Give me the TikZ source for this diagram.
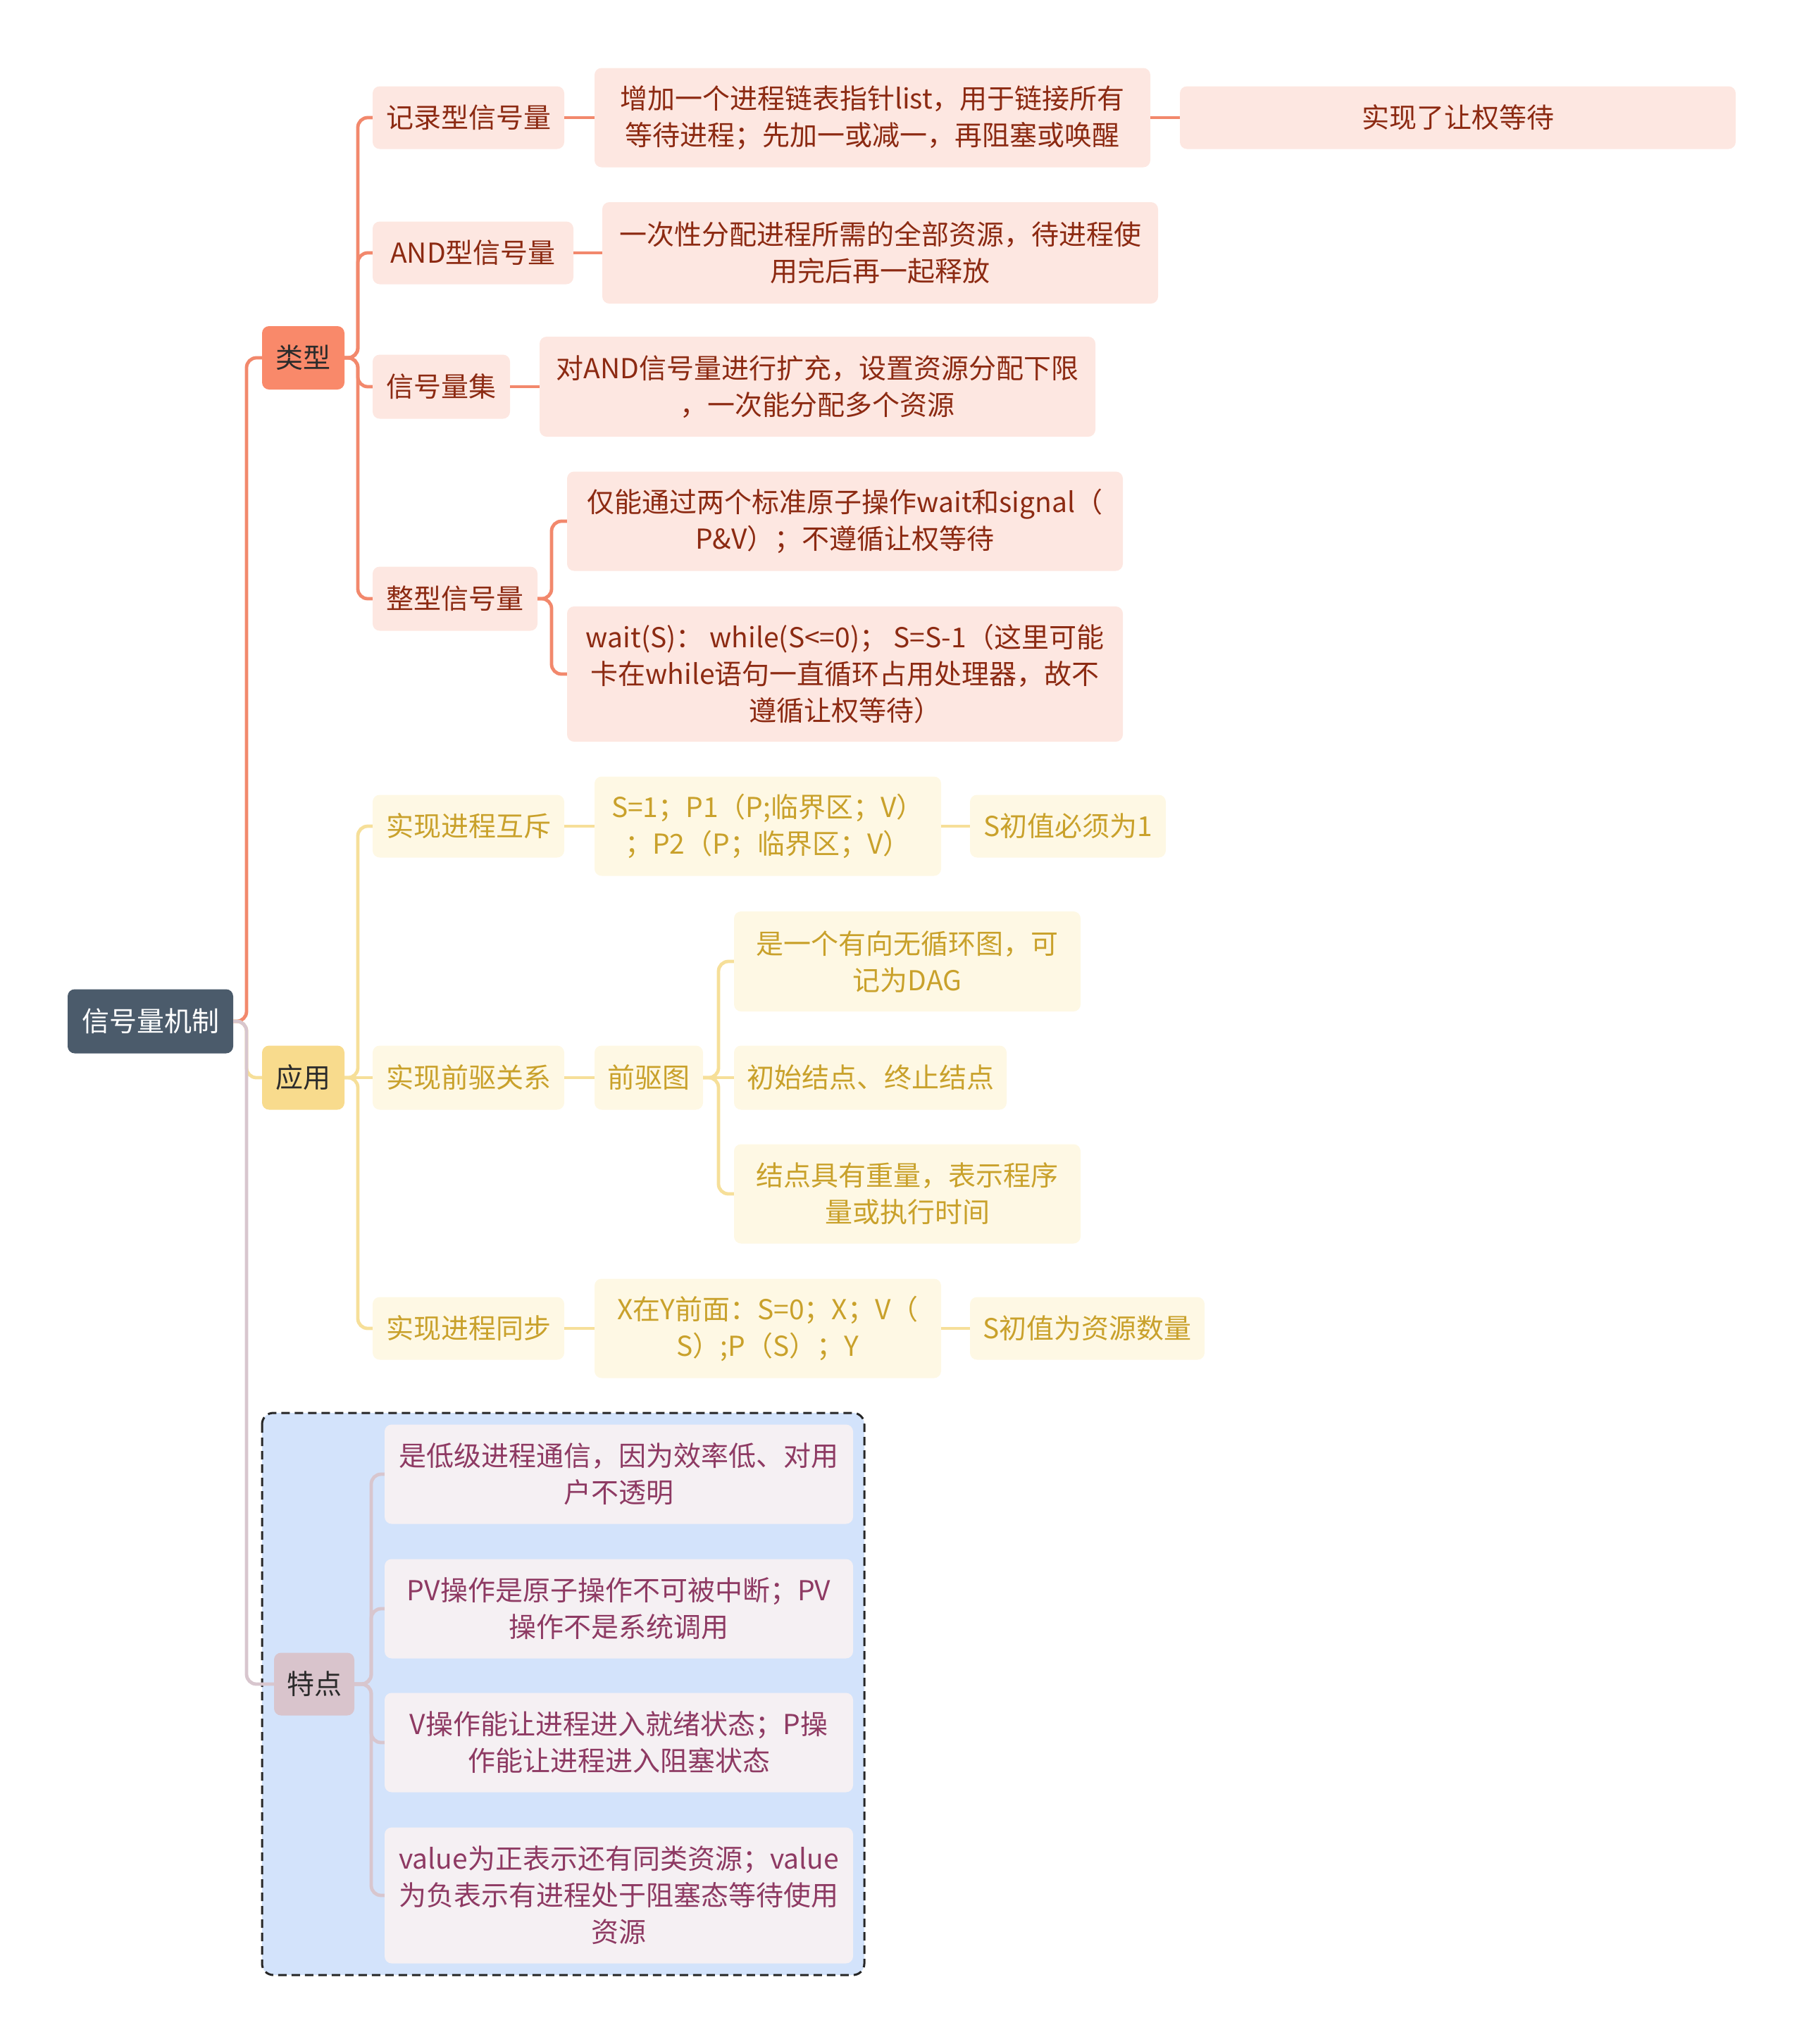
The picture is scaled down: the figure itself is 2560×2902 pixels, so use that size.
\documentclass[tikz,border=0pt]{standalone}
\usepackage{fontspec}
\setmainfont{Noto Sans CJK SC}
\definecolor{rootfill}{HTML}{4B5B6B}
\definecolor{ofill}{HTML}{F9896A}
\definecolor{oline}{HTML}{F2886C}
\definecolor{olight}{HTML}{FDE7E1}
\definecolor{otext}{HTML}{8C2A12}
\definecolor{yfill}{HTML}{F8DB8D}
\definecolor{yline}{HTML}{F6DF99}
\definecolor{ylight}{HTML}{FEF8E4}
\definecolor{ytext}{HTML}{C9A12B}
\definecolor{mfill}{HTML}{D9C4CC}
\definecolor{mline}{HTML}{D8C6CE}
\definecolor{mlight}{HTML}{F5F0F3}
\definecolor{mtext}{HTML}{8E3A63}
\definecolor{bluebg}{HTML}{D3E3FB}
\definecolor{darktext}{HTML}{2B2B2B}
\begin{document}
\begin{tikzpicture}[x=1pt,y=-1pt,
  box/.style={rounded corners=10pt, inner sep=0pt, align=center, font=\fontsize{39}{52}\selectfont},
  sz/.style 2 args={minimum width=#1pt, minimum height=#2pt},
  rootnode/.style={box, fill=rootfill, text=white},
  obig/.style={box, fill=ofill, text=darktext},
  onode/.style={box, fill=olight, text=otext},
  ybig/.style={box, fill=yfill, text=darktext},
  ynode/.style={box, fill=ylight, text=ytext},
  mbig/.style={box, fill=mfill, text=darktext},
  mnode/.style={box, fill=mlight, text=mtext},
  oconn/.style={draw=oline, line width=4.8pt, rounded corners=14pt},
  yconn/.style={draw=yline, line width=4.8pt, rounded corners=14pt},
  mconn/.style={draw=mline, line width=4.8pt, rounded corners=14pt}
]
\useasboundingbox (0,0) rectangle (2560,2902);

% dashed background box of the third branch
\draw[fill=bluebg, draw=black!85, line width=3pt, dash pattern=on 12pt off 7pt, rounded corners=16pt]
  (372,2006) rectangle (1227,2804);

% root
\node[rootnode, sz={235}{91}] (root) at (213.5,1450) {信号量机制};

% branch 1: types
\node[obig, sz={117}{90}] (lx) at (430.5,508) {类型};
\node[onode, sz={272}{89}] (jl) at (665,167) {记录型信号量};
\node[onode, sz={789}{141}] (a1) at (1238.5,167) {增加一个进程链表指针list，用于链接所有\\等待进程；先加一或减一，再阻塞或唤醒};
\node[onode, sz={789}{89}] (a1a) at (2069.5,167) {实现了让权等待};
\node[onode, sz={285}{89}] (andx) at (671.5,359) {AND型信号量};
\node[onode, sz={789}{144}] (a2) at (1249.5,359) {一次性分配进程所需的全部资源，待进程使\\用完后再一起释放};
\node[onode, sz={195}{91}] (jihe) at (626.5,549) {信号量集};
\node[onode, sz={789}{142}] (a3) at (1160.5,549) {对AND信号量进行扩充，设置资源分配下限\\，一次能分配多个资源};
\node[onode, sz={234}{91}] (zx) at (646,850) {整型信号量};
\node[onode, sz={789}{141}] (a4a) at (1199.5,740) {仅能通过两个标准原子操作wait和signal（\\P\&V）；不遵循让权等待};
\node[onode, sz={789}{192}] (a4b) at (1199.5,957) {wait(S)： while(S<=0)； S=S-1（这里可能\\卡在while语句一直循环占用处理器，故不\\遵循让权等待）};

% branch 2: applications
\node[ybig, sz={117}{91}] (yy) at (430.5,1530) {应用};
\node[ynode, sz={272}{89}] (hc) at (665,1173) {实现进程互斥};
\node[ynode, sz={492}{141}] (b1) at (1090,1173) {S=1；P1（P;临界区；V）\\；P2（P；临界区；V）};
\node[ynode, sz={278}{89}] (b1a) at (1516,1173) {S初值必须为1};
\node[ynode, sz={272}{91}] (qq) at (665,1530) {实现前驱关系};
\node[ynode, sz={154}{91}] (qqt) at (921,1530) {前驱图};
\node[ynode, sz={492}{142}] (c1) at (1288,1365) {是一个有向无循环图，可\\记为DAG};
\node[ynode, sz={387}{91}] (c2) at (1235.5,1530) {初始结点、终止结点};
\node[ynode, sz={492}{141}] (c3) at (1288,1695) {结点具有重量，表示程序\\量或执行时间};
\node[ynode, sz={272}{89}] (tb) at (665,1886) {实现进程同步};
\node[ynode, sz={492}{141}] (b3) at (1090,1886) {X在Y前面：S=0；X；V（\\S）;P（S）；Y};
\node[ynode, sz={333}{89}] (b3a) at (1543.5,1886) {S初值为资源数量};

% branch 3: features
\node[mbig, sz={114}{89}] (td) at (446,2391) {特点};
\node[mnode, sz={665}{141}] (d1) at (878.5,2093) {是低级进程通信，因为效率低、对用\\户不透明};
\node[mnode, sz={665}{141}] (d2) at (878.5,2284) {PV操作是原子操作不可被中断；PV\\操作不是系统调用};
\node[mnode, sz={665}{141}] (d3) at (878.5,2474) {V操作能让进程进入就绪状态；P操\\作能让进程进入阻塞状态};
\node[mnode, sz={665}{193}] (d4) at (878.5,2691) {value为正表示还有同类资源；value\\为负表示有进程处于阻塞态等待使用\\资源};

% connectors
\draw[oconn] (root.east) -- (350,1450) |- (lx.west);
\draw[yconn] (root.east) -- (350,1450) |- (yy.west);
\draw[mconn] (root.east) -- (350,1450) |- (td.west);

\draw[oconn] (lx.east) -- (508,508) |- (jl.west);
\draw[oconn] (lx.east) -- (508,508) |- (andx.west);
\draw[oconn] (lx.east) -- (508,508) |- (jihe.west);
\draw[oconn] (lx.east) -- (508,508) |- (zx.west);
\draw[oconn] (jl.east) -- (a1.west);
\draw[oconn] (a1.east) -- (a1a.west);
\draw[oconn] (andx.east) -- (a2.west);
\draw[oconn] (jihe.east) -- (a3.west);
\draw[oconn] (zx.east) -- (783,850) |- (a4a.west);
\draw[oconn] (zx.east) -- (783,850) |- (a4b.west);

\draw[yconn] (yy.east) -- (508,1530) |- (hc.west);
\draw[yconn] (yy.east) -- (qq.west);
\draw[yconn] (yy.east) -- (508,1530) |- (tb.west);
\draw[yconn] (hc.east) -- (b1.west);
\draw[yconn] (b1.east) -- (b1a.west);
\draw[yconn] (qq.east) -- (qqt.west);
\draw[yconn] (qqt.east) -- (1020,1530) |- (c1.west);
\draw[yconn] (qqt.east) -- (c2.west);
\draw[yconn] (qqt.east) -- (1020,1530) |- (c3.west);
\draw[yconn] (tb.east) -- (b3.west);
\draw[yconn] (b3.east) -- (b3a.west);

\draw[mconn] (td.east) -- (527,2391) |- (d1.west);
\draw[mconn] (td.east) -- (527,2391) |- (d2.west);
\draw[mconn] (td.east) -- (527,2391) |- (d3.west);
\draw[mconn] (td.east) -- (527,2391) |- (d4.west);
\end{tikzpicture}
\end{document}
